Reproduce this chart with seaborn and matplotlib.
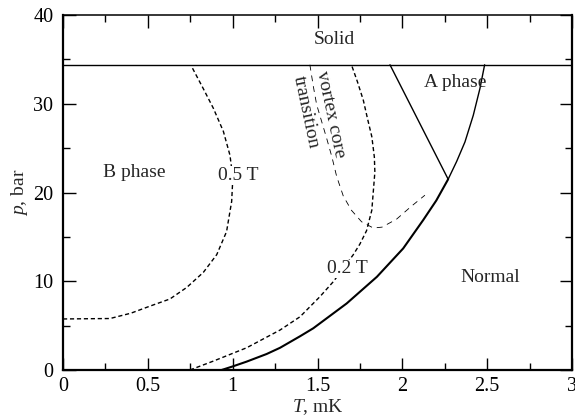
import matplotlib
matplotlib.use("Agg")
import matplotlib.pyplot as plt
import seaborn as sns

# He-3 phase diagram
tc_low_T = [0.935, 1.0, 1.082, 1.2, 1.279, 1.397, 1.475, 1.672, 1.85, 2.005, 2.123, 2.20, 2.27]
tc_low_p = [0.0, 0.4, 0.94, 1.8, 2.5, 3.8, 4.7, 7.5, 10.5, 13.7, 16.9, 19.1, 21.5]

tc_high_T = [2.27, 2.32, 2.369, 2.418, 2.457, 2.485]
tc_high_p = [21.5, 23.5, 25.7, 28.7, 31.7, 34.4]

ab_T = [1.927, 2.27]
ab_p = [34.4, 21.5]

solid_T = [0.0, 3.0]
solid_p = [34.4, 34.4]

half_T = [0.0, 0.277, 0.4, 0.513, 0.63, 0.729, 0.827, 0.906, 0.964, 0.994, 1.0,
          0.994, 0.984, 0.945, 0.886, 0.827, 0.758]
half_p = [5.75, 5.8, 6.4, 7.2, 8.0, 9.3, 11.0, 13.0, 15.6, 19.0, 21.3,
          22.7, 24.2, 26.9, 29.5, 31.7, 34.2]

fifth_T = [0.748, 0.886, 1.082, 1.279, 1.397, 1.514, 1.593, 1.65, 1.711, 1.75, 1.789,
           1.82, 1.838, 1.835, 1.82, 1.795, 1.77, 1.735, 1.70]
fifth_p = [0.0, 1.0, 2.5, 4.5, 6.0, 8.26, 9.95, 11.4, 13.0, 14.2, 15.7,
           18.0, 22.3, 24.0, 26.3, 28.3, 30.4, 32.5, 34.4]

vortex_T = [1.455, 1.475, 1.495, 1.554, 1.585, 1.613, 1.652, 1.70, 1.76, 1.829, 1.88,
            1.966, 2.05, 2.133]
vortex_p = [34.4, 32.0, 29.9, 26.1, 24.0, 21.8, 19.6, 18.0, 16.7, 16.0, 16.1,
            17.0, 18.4, 19.7]

sns.set_theme(style="ticks")
plt.rcParams["font.family"] = ["Liberation Serif", "DejaVu Serif"]
plt.rcParams["mathtext.fontset"] = "custom"
plt.rcParams["mathtext.rm"] = "Liberation Serif"
plt.rcParams["mathtext.it"] = "Liberation Serif:italic"

fig, ax = plt.subplots(figsize=(5.75, 4.19), dpi=100)
fig.subplots_adjust(left=0.1096, right=0.9948, bottom=0.117, top=0.964)

kw = dict(sort=False, estimator=None, color="black", ax=ax)
sns.lineplot(x=tc_low_T, y=tc_low_p, lw=1.5, **kw)
sns.lineplot(x=tc_high_T, y=tc_high_p, lw=1.0, **kw)
sns.lineplot(x=ab_T, y=ab_p, lw=1.0, **kw)
sns.lineplot(x=solid_T, y=solid_p, lw=1.0, **kw)
sns.lineplot(x=half_T, y=half_p, lw=1.0, linestyle=(0, (3, 2)), **kw)
sns.lineplot(x=fifth_T, y=fifth_p, lw=1.0, linestyle=(0, (3, 2)), **kw)
sns.lineplot(x=vortex_T, y=vortex_p, lw=0.6, linestyle=(0, (7, 6)), **kw)

fs = 14
ax.text(1.6, 37.2, "Solid", fontsize=fs, ha="center", va="center")
ax.text(2.31, 32.4, "A phase", fontsize=fs, ha="center", va="center")
ax.text(0.42, 22.3, "B phase", fontsize=fs, ha="center", va="center")
ax.text(2.52, 10.4, "Normal", fontsize=fs, ha="center", va="center")
box = dict(facecolor="white", edgecolor="none", pad=0.5)
ax.text(1.03, 21.9, "0.5 T", fontsize=fs, ha="center", va="center", bbox=box)
ax.text(1.676, 11.4, "0.2 T", fontsize=fs, ha="center", va="center", bbox=box)
ax.text(1.58, 28.8, "vortex core", fontsize=fs, ha="center", va="center", rotation=-78,
        rotation_mode="anchor")
ax.text(1.43, 29.1, "transition", fontsize=fs, ha="center", va="center", rotation=-78,
        rotation_mode="anchor")

ax.set_xlim(0, 3)
ax.set_ylim(0, 40)
ax.set_xticks([0, 0.5, 1, 1.5, 2, 2.5, 3])
ax.set_xticklabels(["0", "0.5", "1", "1.5", "2", "2.5", "3"])
ax.set_yticks([0, 10, 20, 30, 40])
ax.set_xticks([0.25, 0.75, 1.25, 1.75, 2.25, 2.75], minor=True)
ax.set_yticks([5, 15, 25, 35], minor=True)
ax.tick_params(which="both", direction="in", top=True, right=True, labelsize=14.5, colors="black")
ax.tick_params(which="major", length=9, width=1.0)
ax.tick_params(which="minor", length=5, width=1.0)
ax.tick_params(axis="y", pad=7)
ax.tick_params(axis="x", pad=5)

ax.set_xlabel("$T$, mK", fontsize=14, labelpad=1)
ax.set_ylabel("$p$, bar", fontsize=14, labelpad=2)

for side in ["left", "bottom", "right"]:
    ax.spines[side].set_linewidth(1.6)
ax.spines["top"].set_linewidth(1.1)
for s in ax.spines.values():
    s.set_color("black")

fig.savefig("out.png", dpi=100)
